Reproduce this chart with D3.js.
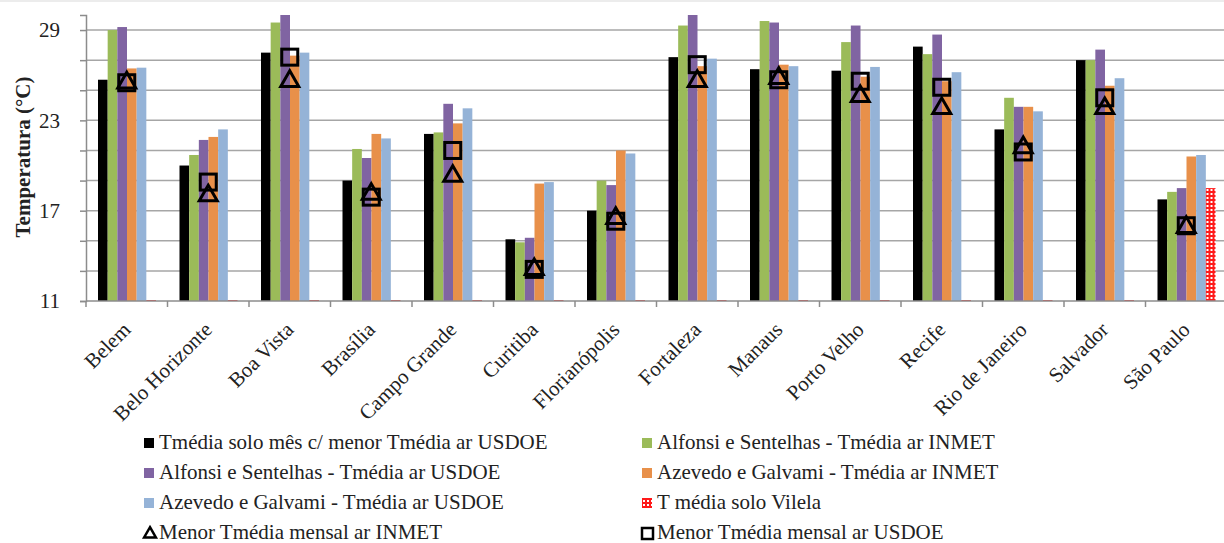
<!DOCTYPE html>
<html>
<head>
<meta charset="utf-8">
<script src="https://cdn.jsdelivr.net/npm/d3@7"></script>
<style>
  body { margin: 0; background: #fff; }
  svg { display: block; font-family: "Liberation Serif", "Times New Roman", serif; }
</style>
</head>
<body>
<svg id="chart"></svg>
<script>
// Data
const cities = ["Belem", "Belo Horizonte", "Boa Vista", "Brasília", "Campo Grande", "Curitiba",
  "Florianópolis", "Fortaleza", "Manaus", "Porto Velho", "Recife", "Rio de Janeiro", "Salvador", "São Paulo"];

const soloMesMenorUSDOE = [25.7, 20.0, 27.5, 19.0, 22.1, 15.1, 17.0, 27.2, 26.4, 26.3, 27.9, 22.4, 27.0, 17.75];
const alfonsiINMET      = [29.0, 20.7, 29.5, 21.1, 22.2, 14.9, 19.0, 29.3, 29.6, 28.2, 27.4, 24.5, 27.0, 18.25];
const alfonsiUSDOE      = [29.2, 21.7, 30.0, 20.5, 24.1, 15.2, 18.7, 30.0, 29.5, 29.3, 28.7, 23.9, 27.7, 18.5];
const azevedoINMET      = [26.45, 21.9, 27.3, 22.1, 22.8, 18.8, 21.0, 26.6, 26.7, 25.9, 25.6, 23.9, 25.3, 20.6];
const azevedoUSDOE      = [26.5, 22.4, 27.5, 21.8, 23.8, 18.9, 20.8, 27.1, 26.6, 26.55, 26.2, 23.6, 25.8, 20.7];
const soloVilela        = [11.06, 11.06, 11.06, 11.06, 11.06, 11.06, 11.06, 11.06, 11.06, 11.06, 11.06, 11.06, 11.06, 18.5];
const menorINMET        = [25.5, 18.0, 25.6, 18.1, 19.3, 13.1, 16.5, 25.6, 25.8, 24.6, 23.8, 21.2, 23.8, 15.9];
const menorUSDOE        = [25.5, 18.9, 27.2, 17.9, 21.0, 13.1, 16.3, 26.7, 25.7, 25.6, 25.2, 20.9, 24.5, 16.0];

const yTicks = [11, 17, 23, 29];
const yGrid = [13, 15, 17, 19, 21, 23, 25, 27, 29];

const barSeries = [
  { name: "Tmédia solo mês c/ menor Tmédia ar USDOE", values: soloMesMenorUSDOE, color: "#000000" },
  { name: "Alfonsi e Sentelhas  - Tmédia  ar INMET", values: alfonsiINMET, color: "#9bbb59" },
  { name: "Alfonsi e Sentelhas - Tmédia ar USDOE", values: alfonsiUSDOE, color: "#8064a2" },
  { name: "Azevedo e Galvami - Tmédia ar INMET", values: azevedoINMET, color: "#e8904a" },
  { name: "Azevedo e Galvami - Tmédia ar USDOE", values: azevedoUSDOE, color: "#95b3d7" },
  { name: "T média solo Vilela", values: soloVilela, color: "url(#redcheck)" }
];

const width = 1224, height = 543;
const svg = d3.select("#chart").attr("width", width).attr("height", height);

// red checkered pattern for the Vilela series
const pat = svg.append("defs").append("pattern")
  .attr("id", "redcheck").attr("width", 4).attr("height", 4)
  .attr("patternUnits", "userSpaceOnUse");
pat.append("rect").attr("width", 4).attr("height", 4).attr("fill", "#ff1a1a");
pat.append("rect").attr("x", 1).attr("y", 1).attr("width", 2).attr("height", 2).attr("fill", "#fff");

// top frame line
svg.append("line").attr("x1", 0).attr("x2", width).attr("y1", 1).attr("y2", 1)
  .attr("stroke", "#d9d9d9");

const x0 = d3.scaleBand().domain(cities).range([86, 1227]);
const x1 = d3.scaleBand().domain(d3.range(barSeries.length)).range([12, 70]);
const y = d3.scaleLinear().domain([11, 30]).range([301, 15]);

// gridlines
svg.append("g").selectAll("line").data(yGrid).join("line")
  .attr("x1", 86).attr("x2", width)
  .attr("y1", d => y(d)).attr("y2", d => y(d))
  .attr("stroke", "#a6a6a6").attr("stroke-width", 1.5);

// y axis
const yAxis = svg.append("g").attr("transform", "translate(86,0)")
  .call(d3.axisLeft(y).tickValues([11].concat(yGrid)).tickSize(6).tickFormat(""));
yAxis.select(".domain").attr("stroke", "#8c8c8c").attr("stroke-width", 1.5);
yAxis.selectAll(".tick line").attr("stroke", "#8c8c8c").attr("stroke-width", 1.5);

svg.append("g").selectAll("text").data(yTicks).join("text")
  .attr("x", 60).attr("y", d => y(d)).attr("dy", "0.35em")
  .attr("text-anchor", "end").attr("font-size", 21).attr("fill", "#222")
  .text(d => d);

svg.append("text")
  .attr("transform", "translate(30,157) rotate(-90)")
  .attr("text-anchor", "middle").attr("font-size", 21).attr("font-weight", "bold")
  .attr("fill", "#222")
  .text("Temperatura (°C)");

// bars
const groups = svg.append("g").selectAll("g").data(cities).join("g")
  .attr("transform", d => `translate(${x0(d)},0)`);

groups.selectAll("rect")
  .data((c, i) => barSeries.map((s, k) => ({ k: k, v: s.values[i], color: s.color })))
  .join("rect")
  .attr("x", d => x1(d.k))
  .attr("width", x1.bandwidth())
  .attr("y", d => y(d.v))
  .attr("height", d => y(11) - y(d.v))
  .attr("fill", d => d.color);

// x axis
const xAxis = svg.append("g").attr("transform", "translate(0,301)");
xAxis.append("line").attr("x1", 86).attr("x2", width).attr("stroke", "#8c8c8c").attr("stroke-width", 1.5);
xAxis.selectAll("line.tk").data(cities).join("line").attr("class", "tk")
  .attr("x1", d => x0(d)).attr("x2", d => x0(d)).attr("y1", 0).attr("y2", 6)
  .attr("stroke", "#8c8c8c").attr("stroke-width", 1.5);
xAxis.selectAll("text").data(cities).join("text")
  .attr("transform", d => `translate(${x0(d) + x0.bandwidth() / 2 + 5},30) rotate(-45)`)
  .attr("text-anchor", "end").attr("font-size", 21).attr("fill", "#222")
  .text(d => d);

// markers
const tri = d3.symbol().type(d3.symbolTriangle).size(140);
svg.append("g").selectAll("path").data(menorINMET).join("path")
  .attr("d", tri)
  .attr("transform", (d, i) => `translate(${x0(cities[i]) + x0.bandwidth() / 2},${y(d)})`)
  .attr("fill", "none").attr("stroke", "#000").attr("stroke-width", 3);

svg.append("g").selectAll("rect").data(menorUSDOE).join("rect")
  .attr("x", (d, i) => x0(cities[i]) + x0.bandwidth() / 2 - 8)
  .attr("y", d => y(d) - 8)
  .attr("width", 16).attr("height", 16)
  .attr("fill", "none").attr("stroke", "#000").attr("stroke-width", 3);

// legend
const legendItems = [
  { name: barSeries[0].name, kind: "box", color: barSeries[0].color },
  { name: barSeries[1].name, kind: "box", color: barSeries[1].color },
  { name: barSeries[2].name, kind: "box", color: barSeries[2].color },
  { name: barSeries[3].name, kind: "box", color: barSeries[3].color },
  { name: barSeries[4].name, kind: "box", color: barSeries[4].color },
  { name: barSeries[5].name, kind: "box", color: barSeries[5].color },
  { name: "Menor Tmédia mensal ar INMET", kind: "tri" },
  { name: "Menor Tmédia mensal ar USDOE", kind: "sq" }
];

const leg = svg.append("g").selectAll("g").data(legendItems).join("g")
  .attr("transform", (d, i) => `translate(${i % 2 ? 642 : 144},${443 + Math.floor(i / 2) * 30})`);

leg.filter(d => d.kind === "box").append("rect")
  .attr("x", 0).attr("y", -5).attr("width", 10).attr("height", 10)
  .attr("fill", d => d.color);
leg.filter(d => d.kind === "tri").append("path")
  .attr("d", d3.symbol().type(d3.symbolTriangle).size(60))
  .attr("transform", "translate(6,1)")
  .attr("fill", "none").attr("stroke", "#000").attr("stroke-width", 2.5);
leg.filter(d => d.kind === "sq").append("rect")
  .attr("x", 0).attr("y", -5).attr("width", 11).attr("height", 11)
  .attr("fill", "none").attr("stroke", "#000").attr("stroke-width", 2.5);

leg.append("text")
  .attr("x", 15).attr("dy", "0.3em")
  .attr("font-size", 21).attr("fill", "#222")
  .text(d => d.name);
</script>
</body>
</html>
